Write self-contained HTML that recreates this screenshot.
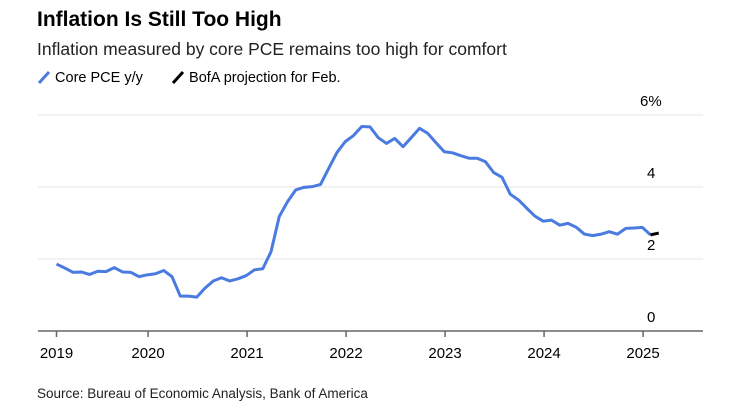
<!DOCTYPE html>
<html><head><meta charset="utf-8"><style>
body{margin:0;background:#fff;font-family:"Liberation Sans",Arial,sans-serif;}
#wrap{position:relative;width:745px;height:418px;overflow:hidden;}
.t{position:absolute;white-space:nowrap;color:#000;}
</style></head><body>
<div id="wrap">
<div class="t" style="left:37px;top:8px;font-size:21px;font-weight:bold;">Inflation Is Still Too High</div>
<div class="t" style="left:37px;top:39px;font-size:17.5px;color:#222;">Inflation measured by core PCE remains too high for comfort</div>
<div class="t" style="left:37px;top:70px;font-size:14.5px;"><svg width="14" height="14" style="vertical-align:-2px"><line x1="2" y1="13" x2="12" y2="2" stroke="#4a7be0" stroke-width="3"/></svg> Core PCE y/y</div>
<div class="t" style="left:171px;top:70px;font-size:14.5px;"><svg width="14" height="14" style="vertical-align:-2px"><line x1="2" y1="13" x2="12" y2="2" stroke="#000" stroke-width="3"/></svg> BofA projection for Feb.</div>
<svg id="chart" width="745" height="418" style="position:absolute;left:0;top:0"></svg>
<div class="t" style="left:37px;top:386px;font-size:13.5px;color:#222;">Source: Bureau of Economic Analysis, Bank of America</div>
</div>
<script>
const coreValues=[1.86,1.75,1.63,1.64,1.57,1.66,1.65,1.76,1.64,1.63,1.51,1.56,1.59,1.68,1.51,0.97,0.97,0.94,1.19,1.39,1.48,1.39,1.45,1.54,1.70,1.73,2.20,3.18,3.59,3.92,3.99,4.01,4.07,4.52,4.96,5.26,5.43,5.68,5.67,5.37,5.21,5.35,5.12,5.37,5.63,5.49,5.23,4.98,4.95,4.87,4.80,4.80,4.70,4.40,4.27,3.80,3.64,3.41,3.19,3.05,3.08,2.94,2.99,2.88,2.69,2.65,2.69,2.76,2.69,2.85,2.86,2.88,2.67];
const projValues=[2.67,2.72];
const projStart=72;
const yTicks=[0,2,4,6];
const yTickLabels=["0","2","4","6%"];
const xTickLabels=["2019","2020","2021","2022","2023","2024","2025"];
const xTickMonths=[0,11.1,23.1,35.1,47.1,59.1,71.1];
const NS="http://www.w3.org/2000/svg";
const svg=document.getElementById('chart');
const xs=m=>56.5+m*8.25;
const ys=v=>331-v*36;
function mk(tag,attrs){const e=document.createElementNS(NS,tag);for(const k in attrs)e.setAttribute(k,attrs[k]);svg.appendChild(e);return e;}
yTicks.forEach((v,i)=>{
  if(v>0){const g=mk('line',{x1:38,x2:703,y1:ys(v),y2:ys(v),stroke:'#e6e6e6','stroke-width':1});
  
  }
  const t=mk('text',{x:i==3?640:647,y:ys(v)-9,'font-size':15,fill:'#000','font-family':'Liberation Sans, sans-serif'});
  t.textContent=yTickLabels[i];
  
  
});
const ax=mk('line',{x1:38,x2:703,y1:331,y2:331,stroke:'#666','stroke-width':1.5});


xTickMonths.forEach((m,i)=>{
  const tk=mk('line',{x1:xs(m),x2:xs(m),y1:331,y2:337,stroke:'#666','stroke-width':1.5});
  
  
  const t=mk('text',{x:xs(m),y:358,'font-size':15,'text-anchor':'middle',fill:'#000','font-family':'Liberation Sans, sans-serif'});
  t.textContent=xTickLabels[i];
  
  
});
const p1=mk('polyline',{points:coreValues.map((v,i)=>xs(i)+','+ys(v)).join(' '),fill:'none',stroke:'#4a7be0','stroke-width':3,'stroke-linejoin':'round'});


const p2=mk('polyline',{points:projValues.map((v,i)=>xs(projStart+i)+','+ys(v)).join(' '),fill:'none',stroke:'#000','stroke-width':3});


</script>
</body></html>
